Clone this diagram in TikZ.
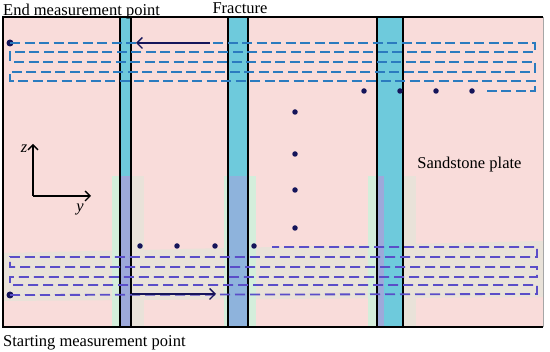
\documentclass[tikz,border=0pt]{standalone}
\usepackage{fontspec}
\setmainfont{Liberation Serif}
\usetikzlibrary{arrows.meta}
\definecolor{plate}{HTML}{F9DCDA}
\definecolor{frac}{HTML}{6ECADC}
\definecolor{mint}{HTML}{D4EEDB}
\definecolor{beige}{HTML}{E9E2D9}
\definecolor{lilac}{HTML}{9DA9DA}
\definecolor{fracmix}{HTML}{8EB3DC}
\definecolor{topdash}{HTML}{2B7BBF}
\definecolor{botdash}{HTML}{5A4EC8}
\definecolor{navy}{HTML}{15155A}
\begin{document}
\begin{tikzpicture}[x=1pt,y=-1pt,
  lbl/.style={inner sep=0pt,font=\fontsize{16.5}{18}\selectfont},
  dot/.style={circle,fill=navy,inner sep=0pt,minimum size=5.5pt},
  bigdot/.style={circle,fill=navy,inner sep=0pt,minimum size=7pt},
  topline/.style={draw=topdash,line width=1.6pt,dash pattern=on 10pt off 4.5pt},
  botline/.style={draw=botdash,line width=1.8pt,dash pattern=on 10pt off 5pt},
  navyarrow/.style={draw=navy,line width=1.3pt,-{Straight Barb[length=5.5pt,width=11pt]}},
  axis/.style={draw=black,line width=1.4pt,-{Straight Barb[length=5pt,width=10pt]}},
  fracedge/.style={draw=black,line width=1.4pt}]
% canvas
\fill[white] (0,0) rectangle (550,352);
\useasboundingbox (0,0) rectangle (550,352);
% plate
\fill[plate] (3,17) rectangle (543,327);
% horizontal light band of lower survey lines
\fill[beige] (3,253) -- (543,241) -- (543,297) -- (3,301) -- cycle;
% vertical bands around fractures (lower part)
\fill[mint]  (112,176) rectangle (120,327);
\fill[beige] (131,176) rectangle (144,327);
\fill[mint]  (224,176) rectangle (228,327);
\fill[mint]  (248,176) rectangle (256,327);
\fill[mint]  (368,176) rectangle (377,327);
\fill[beige] (403,176) rectangle (416,327);
% fractures
\fill[frac] (120,17) rectangle (131,327);
\fill[lilac] (120,176) rectangle (131,327);
\fill[frac] (228,17) rectangle (248,327);
\fill[fracmix] (228,176) rectangle (248,327);
\fill[frac] (377,17) rectangle (403,327);
\fill[lilac] (377,176) rectangle (384,327);
\foreach \xx in {120,131,228,248,377,403}
  \draw[fracedge] (\xx,17) -- (\xx,327);
% plate border
\draw[black,line width=1.3pt] (543,17) -- (3,17) -- (3,327) -- (543,327);
\draw[black!35,line width=1.6pt] (543.5,17) -- (543.5,327.5);
% dots
\node[bigdot] (tdot) at (10,43) {};
\node[bigdot] (bdot) at (10,295) {};
\foreach \i/\xx in {1/364,2/400,3/436,4/472}
  \node[dot] (r\i) at (\xx,91) {};
\foreach \i/\yy in {1/112,2/154,3/190,4/228}
  \node[dot] (v\i) at (295,\yy) {};
\foreach \i/\xx in {1/140,2/177,3/215,4/254}
  \node[dot] (b\i) at (\xx,246) {};
% survey lines
\draw[topline] (tdot.center) -- (535,43) -- (535,52) -- (10,52) -- (10,62) -- (535,62)
  -- (535,72) -- (10,72) -- (10,81) -- (535,81) -- (535,91) -- (482,91);
\draw[botline] (bdot.center) -- (537,294) -- (537,285) -- (10,285) -- (10,277) -- (537,277)
  -- (537,267) -- (10,267) -- (10,257) -- (537,257) -- (537,247) -- (272,247);
% direction arrows
\coordinate (ta1) at (210,43);
\coordinate (ta2) at (136,43);
\draw[navyarrow] (ta1) -- (ta2);
\coordinate (ba1) at (132,294);
\coordinate (ba2) at (216,294);
\draw[navyarrow] (ba1) -- (ba2);
% axes
\coordinate (o) at (33,196);
\coordinate (zt) at (33,144);
\coordinate (yt) at (91,196);
\draw[axis] (o) -- (zt);
\draw[axis] (o) -- (yt);
\node[lbl,anchor=base] (zl) at (24,153) {\itshape z};
\node[lbl,anchor=base] (yl) at (80,212) {\itshape y};
% labels
\node[lbl,anchor=base west] (endl) at (3,15.5) {End measurement point};
\node[lbl,anchor=base] (fracl) at (240,13.5) {Fracture};
\node[lbl,anchor=base] (sand) at (469.5,169) {Sandstone plate};
\node[lbl,anchor=base west] (startl) at (3,346.5) {Starting measurement point};
\end{tikzpicture}
\end{document}
